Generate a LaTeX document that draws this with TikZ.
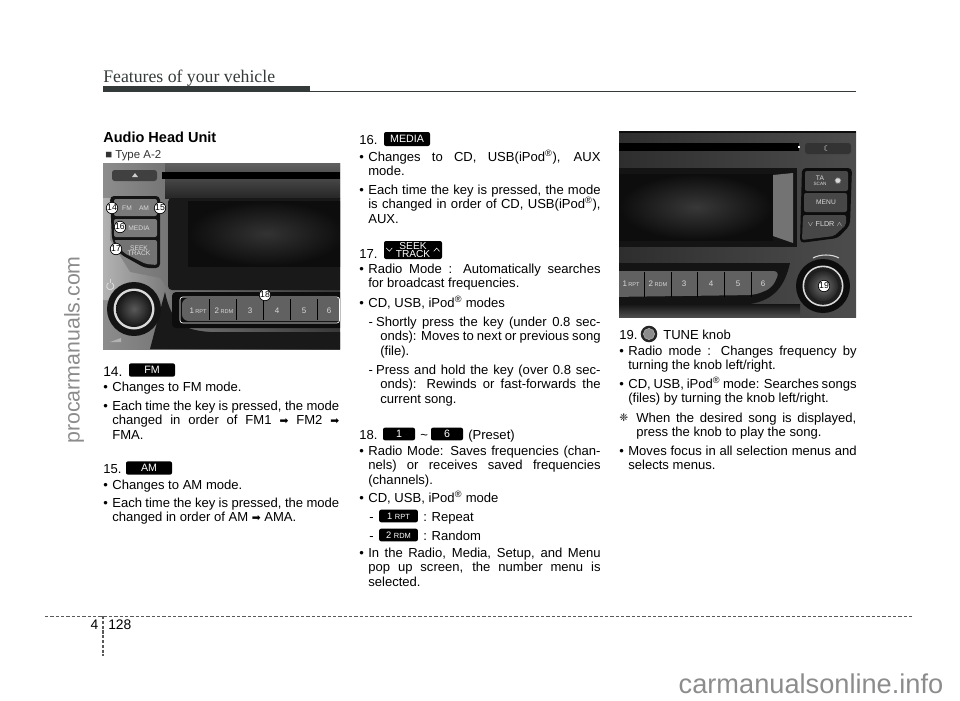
\documentclass[tikz,border=0pt]{standalone}
\usepackage{fontspec}
\usepackage{xcolor}
\usepackage{tikz}
\setmainfont{Liberation Sans}
\newfontfamily\serifhead{Liberation Serif}
\newfontfamily\symfont{DejaVu Sans}
\newcommand{\regmark}{\smash{\textsuperscript{\textregistered}}}
\newcommand{\rarrowmark}{{\symfont\fontsize{8}{8}\selectfont ➡}}
\newcommand{\hangbullet}[1]{\hangindent=6.8pt\hangafter=1 \makebox[6.8pt][l]{\textbullet}#1\par}
\newcommand{\hangdash}[1]{\hangindent=15.75pt\hangafter=1 \hspace{7pt}\makebox[5.6pt][l]{-}#1\par}
\definecolor{barcol}{HTML}{343A3A}
\definecolor{markcol}{HTML}{8C8C8C}
\tikzset{
  bodytext/.style={anchor=north west, inner sep=0pt, text width=#1, align=justify, font=\fontsize{9.8}{10.8}\selectfont, execute at begin node=\strut},
  bodytext/.default=174pt,
  numtext/.style={anchor=west, inner sep=0pt, yshift=-1.6pt, font=\fontsize{9.8}{10.8}\selectfont, execute at begin node=\strut},
  keycap/.style={fill=black, text=white, rounded corners=1.5pt, inner sep=0pt, font=\fontsize{8}{8}\selectfont},
  callout/.style={circle, draw=black, fill=white, line width=0.5pt, inner sep=0pt, minimum size=8.6pt, font=\fontsize{6.5}{6.5}\selectfont},
  facelabel/.style={inner sep=0pt, text=white!85!black, font=\fontsize{5}{5}\selectfont}
}
\begin{document}
\begin{tikzpicture}[x=0.75pt,y=-0.75pt]
  \useasboundingbox (0,0) rectangle (960,700);

  % Header
  \node[anchor=base west, inner sep=0pt, text=barcol, font=\serifhead\fontsize{13.3}{13}\selectfont] (header) at (103,82) {Features of your vehicle};
  \fill[barcol] (103,85.5) rectangle (310,92);
  \fill[barcol] (310,90.5) rectangle (856,92);

  % Left column
  \node[anchor=base west, inner sep=0pt, font=\bfseries\fontsize{10.9}{12}\selectfont] (audiohead) at (103,142) {Audio Head Unit};
  \node[anchor=west, inner sep=0pt, text=black!80, font=\fontsize{8.6}{9}\selectfont] (typelabel) at (105,156) {■ Type A-2};

  % Left photo
  \begin{scope}
    \clip (103,163) rectangle (340,349);
    \shade[left color=black!45, right color=black!78] (103,163) rectangle (340,349);
    \shade[top color=black!62, bottom color=black!85] (165,163) rectangle (340,198);
    \fill[black!75, rounded corners=2pt] (112,170) rectangle (157,181);
    \fill[white!80!black] (132,177) -- (135,173) -- (138,177) -- cycle;
    \fill[black] (162,172) rectangle (340,179);
    \fill[black!90, rounded corners=3pt] (168,198) rectangle (345,290);
    \shade[inner color=black!80, outer color=black!95] (188,201) rectangle (345,266);
    \shade[left color=black!30, right color=black!55] (103,198) -- (112,198) -- (110,240) -- (130,272) -- (160,278) -- (176,300) -- (103,300) -- cycle;
    % button block
    \fill[black!92, rounded corners=3pt] (110,196) -- (160,196) -- (160,268) -- (145,268) -- (120,254) -- (112,240) -- cycle;
    \fill[black!52, rounded corners=1.5pt] (114,199) rectangle (157,216);
    \fill[black!52, rounded corners=1.5pt] (114,219) rectangle (157,237);
    \fill[black!55, rounded corners=1.5pt] (114,240) -- (157,240) -- (157,265) -- (146,264) -- (124,253) -- cycle;
    % lower band
    \fill[black!90] (165,292) .. controls (172,325) and (185,330) .. (210,332) -- (345,332) -- (345,349) -- (150,349) -- cycle;
    \fill[black!95, rounded corners=3pt] (172,292) rectangle (345,328);
    \fill[black!62, rounded corners=5pt] (182,298) rectangle (350,321);
    \foreach \sepx in {209,236,263,290,317}
      \draw[black, line width=0.7pt] (\sepx,299) -- (\sepx,320);
    \draw[white, line width=0.5pt, rounded corners=2pt] (180,297) rectangle (339.5,323);
    % knob
    \fill[black!92] (134,309) circle (27);
    \fill[white!85!black] (134,309) circle (20.5);
    \shade[inner color=black!65, outer color=black!92] (134,309) circle (18);
    \draw[white!85!black, line width=0.7pt] (112,283) arc[start angle=-60, end angle=240, radius=3.6];
    \draw[white!85!black, line width=0.7pt] (110.2,279) -- (110.2,282.5);
    \fill[white!70!black] (110,342) -- (121,338) -- (121,342) -- cycle;
  \end{scope}
  \node[facelabel] (lfm) at (127,208) {FM};
  \node[facelabel] (lam) at (144,208) {AM};
  \node[facelabel] (lmedia) at (139,228) {MEDIA};
  \node[facelabel, align=center] (lseek) at (139,251) {SEEK\\[-1pt]TRACK};
  \foreach \labx/\lab in {198/1\,\scalebox{.7}{RPT},224/2\,\scalebox{.7}{RDM},250/3,277/4,304/5,329/6}
    \node[facelabel, font=\fontsize{6}{6}\selectfont] at (\labx,311) {\lab};
  \node[callout] (c14) at (112,208) {14};
  \node[callout] (c15) at (160,208) {15};
  \node[callout] (c16) at (120,227) {16};
  \node[callout] (c17) at (116,249) {17};
  \node[callout] (c18) at (265,295) {18};

  \node[numtext, font=\fontsize{10.4}{10.8}\selectfont] (n14) at (103,371) {14.};
  \node[keycap, minimum width=34.5pt, minimum height=10pt] (keyfm) at (152,370) {FM};
  \node[bodytext=177pt] (b14a) at (103,381) {\hangbullet{Changes to FM mode.}};
  \node[bodytext=177pt] (b14b) at (103,400) {\hangbullet{Each time the key is pressed, the mode\linebreak changed in order of FM1 \rarrowmark{} FM2 \rarrowmark\linebreak FMA.}};
  \node[numtext] (n15) at (103,468) {15.};
  \node[keycap, minimum width=34.5pt, minimum height=10pt] (keyam) at (149,468) {AM};
  \node[bodytext=177pt] (b15a) at (103,479) {\hangbullet{Changes to AM mode.}};
  \node[bodytext=177pt] (b15b) at (103,497) {\hangbullet{Each time the key is pressed, the mode\linebreak changed in order of AM \rarrowmark{} AMA.}};

  % Middle column
  \node[numtext] (n16) at (359,139) {16.};
  \node[keycap, minimum width=34.5pt, minimum height=10.5pt] (keymedia) at (407,139) {MEDIA};
  \node[bodytext=181pt] (b16a) at (359,151) {\hangbullet{Changes to CD, USB(iPod\regmark), AUX\linebreak mode.}};
  \node[bodytext=181pt] (b16b) at (359,184) {\hangbullet{Each time the key is pressed, the mode\linebreak is changed in order of CD, USB(iPod\regmark),\linebreak AUX.}};
  \node[numtext] (n17) at (359,253) {17.};
  \node[keycap, minimum width=43.5pt, minimum height=13.5pt, align=center, font=\fontsize{7.6}{5.8}\selectfont] (keyseek) at (413,250) {SEEK\\TRACK};
  \draw[white, line width=0.4pt] ([xshift=2pt,yshift=1.5pt]keyseek.west) -- ++(2.2pt,-2.4pt) -- ++(2.2pt,2.4pt);
  \draw[white, line width=0.4pt] ([xshift=-6.4pt,yshift=-1pt]keyseek.east) -- ++(2.2pt,2.4pt) -- ++(2.2pt,-2.4pt);
  \node[bodytext=181pt] (b17a) at (359,263) {\hangbullet{Radio Mode : Automatically searches\linebreak for broadcast frequencies.}};
  \node[bodytext=181pt] (b17b) at (359,297) {\hangbullet{CD, USB, iPod\regmark{} modes}};
  \node[bodytext=181pt] (b17c) at (359,316) {\hangdash{Shortly press the key (under 0.8 sec-\linebreak onds): Moves to next or previous song\linebreak (file).}};
  \node[bodytext=181pt] (b17d) at (359,364) {\hangdash{Press and hold the key (over 0.8 sec-\linebreak onds): Rewinds or fast-forwards the\linebreak current song.}};
  \node[numtext] (n18) at (359,434) {18.};
  \node[keycap, minimum width=24pt, minimum height=9.5pt] (keyone) at (399,434) {1};
  \node[numtext] (tilde) at (420,434) {\textasciitilde};
  \node[keycap, minimum width=24pt, minimum height=9.5pt] (keysix) at (447,434) {6};
  \node[numtext] (preset) at (468,434) {(Preset)};
  \node[bodytext=181pt] (b18a) at (359,445) {\hangbullet{Radio Mode: Saves frequencies (chan-\linebreak nels) or receives saved frequencies\linebreak (channels).}};
  \node[bodytext=181pt] (b18b) at (359,492) {\hangbullet{CD, USB, iPod\regmark{} mode}};
  \node[numtext] (dasha) at (369,516) {-};
  \node[keycap, minimum width=29pt, minimum height=9.5pt, font=\fontsize{7}{7}\selectfont] (keyrpt) at (398.5,516) {1 \fontsize{5.6}{7}\selectfont RPT};
  \node[numtext] (repeat) at (423,516) {: Repeat};
  \node[numtext] (dashb) at (369,535) {-};
  \node[keycap, minimum width=29pt, minimum height=9.5pt, font=\fontsize{7}{7}\selectfont] (keyrdm) at (398.5,535) {2 \fontsize{5.6}{7}\selectfont RDM};
  \node[numtext] (random) at (423,535) {: Random};
  \node[bodytext=181pt] (b18c) at (359,547) {\hangbullet{In the Radio, Media, Setup, and Menu\linebreak pop up screen, the number menu is\linebreak selected.}};

  % Right photo
  \begin{scope}
    \clip (619,131) rectangle (856,317);
    \shade[left color=black!82, right color=black!70] (619,131) rectangle (856,317);
    \fill[black!95] (619,131) rectangle (856,133);
    \fill[black] (619,143) rectangle (799,151);
    \fill[white] (798,146) rectangle (800,148);
    \fill[black!80, rounded corners=2pt] (805,143) rectangle (851,154);
    \fill[black!92] (619,168) rectangle (797,247);
    \shade[inner color=black!78, outer color=black!95] (619,174) rectangle (773,240);
    \fill[black!55] (773,175) -- (793,173) -- (793,243) -- (773,236) -- cycle;
    % button block
    \fill[black!95, rounded corners=3pt] (802,168) -- (852,168) -- (850,225) -- (838,238) -- (800,243) -- cycle;
    \fill[black!72, rounded corners=1.5pt] (805,171) rectangle (848,191);
    \fill[black!72, rounded corners=1.5pt] (804,193) rectangle (847,212);
    \fill[black!72, rounded corners=1.5pt] (803,215) -- (846,215) -- (846,225) -- (834,236) -- (802,240) -- cycle;
    % lower band
    \fill[black!92] (619,263) -- (790,263) .. controls (785,285) and (775,300) .. (750,304) -- (619,304) -- cycle;
    \fill[black!62, rounded corners=5pt] (610,271) -- (780,271) -- (772,288) -- (755,295) -- (610,297) -- cycle;
    \foreach \sepx in {644,671,697,724,751}
      \draw[black, line width=0.7pt] (\sepx,272) -- (\sepx,297);
    \shade[top color=black!92, bottom color=black!70] (619,304) rectangle (800,317);
    % knob
    \fill[black!95] (823,286) circle (27);
    \fill[white!85!black] (823,286) circle (20.5);
    \fill[black!88] (823,286) circle (18.8);
    \shade[inner color=black!55, outer color=black!85] (823,286) circle (15);
    \draw[white!85!black, line width=0.8pt] (813,258) .. controls (820,254) and (832,254) .. (839,258);
  \end{scope}
  \node[inner sep=0pt, text=white!85!black, font=\symfont\fontsize{6}{6}\selectfont] (moon) at (827,149) {☾};
  \node[facelabel, align=center] (rta) at (820,181) {TA\\[-1pt]\fontsize{3.5}{4}\selectfont SCAN};
  \node[inner sep=0pt, text=white!85!black, font=\symfont\fontsize{7}{7}\selectfont] (rgear) at (838,181) {✹};
  \node[facelabel] (rmenu) at (826,202) {MENU};
  \node[facelabel, font=\fontsize{5.4}{5.4}\selectfont] (rfldr) at (825,224) {$\vee$ FLDR $\wedge$};
  \foreach \labx/\lab in {631/1\,\scalebox{.7}{RPT},658/2\,\scalebox{.7}{RDM},684/3,711/4,738/5,763/6}
    \node[facelabel, font=\fontsize{6}{6}\selectfont] at (\labx,284) {\lab};
  \node[callout] (c19) at (824,286) {19};

  % Right column
  \node[numtext] (n19) at (619,334) {19.};
  \node[circle, fill=black!85, inner sep=0pt, minimum size=12.4pt] (tuneouter) at (649,334) {};
  \node[circle, fill=black!45, draw=white!70!black, line width=0.4pt, inner sep=0pt, minimum size=8.4pt] (tuneinner) at (649,334) {};
  \node[numtext] (tune) at (663,334) {TUNE knob};
  \node[bodytext=178pt] (b19a) at (619,345) {\hangbullet{Radio mode : Changes frequency by\linebreak turning the knob left/right.}};
  \node[bodytext=178pt] (b19b) at (619,378) {\hangbullet{CD, USB, iPod\regmark{} mode: Searches songs\linebreak (files) by turning the knob left/right.}};
  \node[anchor=west, inner sep=0pt, font=\symfont\fontsize{8}{8}\selectfont] (notemark) at (619,418) {❈};
  \node[bodytext=165pt, anchor=north west] (b19c) at (636,412) {When the desired song is displayed,\linebreak press the knob to play the song.};
  \node[bodytext=178pt] (b19d) at (619,445) {\hangbullet{Moves focus in all selection menus and\linebreak selects menus.}};

  % Footer
  \coordinate (footl) at (45,616);
  \coordinate (footr) at (913,616);
  \coordinate (foott) at (103,616);
  \coordinate (footb) at (103,656);
  \draw[black!65, line width=0.6pt, dash pattern=on 2.6pt off 1.4pt] (footl) -- (footr);
  \draw[black!65, line width=0.9pt, dash pattern=on 2.4pt off 1.2pt] (foott) -- (footb);
  \node[anchor=east, inner sep=0pt, font=\fontsize{10.4}{12}\selectfont] (chapter) at (98.5,625) {4};
  \node[anchor=west, inner sep=0pt, font=\fontsize{10.4}{12}\selectfont] (pagenum) at (108,625) {128};

  % Watermarks
  \node[rotate=90, inner sep=0pt, text=markcol, font=\fontsize{16}{16}\selectfont] (markleft) at (74,350) {procarmanuals.com};
  \node[inner sep=0pt, text=markcol, font=\fontsize{20.4}{20.4}\selectfont] (markbottom) at (811,684) {carmanualsonline.info};
\end{tikzpicture}
\end{document}
